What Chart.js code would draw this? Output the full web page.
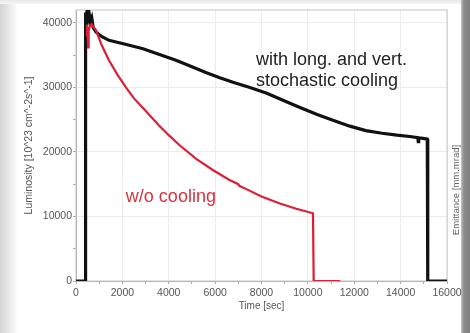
<!DOCTYPE html>
<html lang="en">
<head>
<meta charset="UTF-8">
<title>Luminosity vs time</title>
<script src="https://cdn.jsdelivr.net/npm/chart.js"></script>
<style>
    body {
        margin: 0;
        width: 470px;
        height: 333px;
        overflow: hidden;
        background: linear-gradient(to right, #d4d4d4 0px, #efefef 12px, #ffffff 18px);
        font-family: 'Liberation Sans', Arial, sans-serif;
    }
    .panel {
        position: absolute;
        left: 17px;
        top: 4px;
        width: 446px;
        height: 329px;
        background: #fff;
    }
    .topband {
        position: absolute;
        left: 0; top: 0;
        width: 470px; height: 4px;
        background: linear-gradient(to bottom, #e8e8e8, #f6f6f6);
    }
    .chart-box {
        position: absolute;
        left: 0; top: 0;
        width: 470px; height: 333px;
    }
    .edge {
        position: absolute;
        left: 461px; top: 0;
        width: 9px; height: 333px;
        background: linear-gradient(to right, #c4c4c4, #8a8a8a 3px, #7e7e7e);
    }
    .right-title {
        position: absolute;
        left: 455px; top: 190px;
        transform: translate(-50%, -50%) rotate(-90deg);
        font-size: 9.5px;
        color: #666;
        white-space: nowrap;
    }
</style>
</head>
<body>
    <div class="topband"></div>
    <div class="panel"></div>
    <div class="chart-box"><canvas id="lumi" width="470" height="333"></canvas></div>
    <div class="right-title">Emittance [mm.mrad]</div>
    <div class="edge"></div>

<script>
// black: with long. and vert. stochastic cooling
const coolT = [0, 390, 395, 430, 470, 520, 570, 620, 680, 740, 860, 1100, 1420, 2000, 2890, 3600, 4310, 5000, 5600, 6200, 6770, 7500, 8230, 9000, 9660, 10400, 11080, 11810, 12500, 13200, 13840, 14400, 14740, 14760, 14780, 14960, 15150, 15170, 16000];
const coolL = [0, 0, 41600, 40300, 41700, 40600, 41400, 40200, 40800, 39300, 38600, 37900, 37300, 36800, 36000, 35100, 34200, 33200, 32300, 31500, 30800, 30000, 29100, 27900, 26900, 25800, 24900, 24000, 23300, 22900, 22600, 22400, 22200, 21600, 22200, 22100, 22000, 0, 0];

// red: w/o cooling
const noCoolT = [440, 470, 500, 520, 545, 600, 680, 760, 860, 1100, 1420, 1800, 2155, 2500, 2890, 3580, 4000, 4480, 5200, 5900, 6600, 7000, 7040, 7370, 8000, 8790, 9500, 10220, 10250, 11400];
const noCoolL = [38000, 39700, 38900, 36200, 38800, 39500, 39800, 39300, 38900, 36600, 34200, 31900, 30000, 28300, 26800, 24100, 22600, 21000, 18900, 17200, 15700, 15000, 14750, 14200, 13100, 12000, 11200, 10500, 0, 0];

const xTicks = [0, 2000, 4000, 6000, 8000, 10000, 12000, 14000, 16000];
const yTicks = [0, 10000, 20000, 30000, 40000];

// text written inside the plot
const notes = [
    { text: 'with long. and vert.', t: 7760, l: 33500, color: '#222' },
    { text: 'stochastic cooling', t: 7760, l: 30200, color: '#222' },
    { text: 'w/o cooling', t: 2150, l: 12250, color: '#d8323f' }
];

const toPoints = (ts, ls) => ts.map((t, i) => ({ x: t, y: ls[i] }));

const notesPlugin = {
    id: 'notes',
    afterDatasetsDraw(chart) {
        const c = chart.ctx;
        const xs = chart.scales.x, ys = chart.scales.y;
        c.save();
        c.font = '18px "Liberation Sans", Arial, sans-serif';
        c.textBaseline = 'alphabetic';
        notes.forEach(n => {
            c.fillStyle = n.color;
            c.fillText(n.text, xs.getPixelForValue(n.t), ys.getPixelForValue(n.l));
        });
        c.restore();
    }
};

const framePlugin = {
    id: 'frame',
    beforeDatasetsDraw(chart) {
        const a = chart.chartArea, c = chart.ctx;
        c.save();
        c.strokeStyle = '#c4c4c4';
        c.lineWidth = 1;
        c.strokeRect(a.left, a.top, a.right - a.left, a.bottom - a.top);
        c.restore();
    }
};

Chart.defaults.font.family = '"Liberation Sans", Arial, sans-serif';

new Chart(document.getElementById('lumi'), {
    type: 'line',
    data: {
        datasets: [
            {
                label: 'w/o cooling',
                data: toPoints(noCoolT, noCoolL),
                borderColor: '#dc1f36',
                borderWidth: 2.2,
                pointRadius: 0,
                tension: 0
            },
            {
                label: 'with long. and vert. stochastic cooling',
                data: toPoints(coolT, coolL),
                borderColor: '#111',
                borderWidth: 3.2,
                pointRadius: 0,
                tension: 0
            }
        ]
    },
    options: {
        responsive: false,
        animation: false,
        layout: { padding: { left: 18, right: 23, top: 10, bottom: 0 } },
        plugins: {
            legend: { display: false },
            tooltip: { enabled: false }
        },
        scales: {
            x: {
                type: 'linear',
                min: 0,
                max: 16000,
                afterFit(s) { s.height = 52; },
                afterBuildTicks(s) {
                    s.ticks = [];
                    for (let v = 0; v <= 16000; v += 1000) s.ticks.push({ value: v });
                },
                ticks: {
                    color: '#555',
                    font: { size: 10.5 },
                    padding: 3,
                    maxRotation: 0,
                    autoSkip: false,
                    callback: v => xTicks.includes(v) ? String(v) : ''
                },
                grid: {
                    color: ctx => (ctx.tick && ctx.tick.value % 2000 === 0 && ctx.tick.value > 0) ? '#ececec' : 'transparent',
                    tickColor: '#aaa',
                    tickLength: 3
                },
                border: { color: '#aaa' },
                title: {
                    display: true,
                    text: 'Time [sec]',
                    color: '#555',
                    font: { size: 10 },
                    padding: { top: 0, bottom: 21 }
                }
            },
            y: {
                min: 0,
                max: 42000,
                afterFit(s) { s.width = 58; },
                afterBuildTicks(s) {
                    s.ticks = [];
                    for (let v = 0; v <= 40000; v += 5000) s.ticks.push({ value: v });
                },
                ticks: {
                    color: '#555',
                    font: { size: 10.5 },
                    padding: 1,
                    autoSkip: false,
                    callback: v => yTicks.includes(v) ? String(v) : ''
                },
                grid: {
                    color: ctx => (ctx.tick && ctx.tick.value % 10000 === 0 && ctx.tick.value > 0) ? '#ececec' : 'transparent',
                    tickColor: '#aaa',
                    tickLength: 3
                },
                border: { color: '#aaa' },
                title: {
                    display: true,
                    text: 'Luminosity [10^23 cm^-2s^-1]',
                    color: '#555',
                    font: { size: 10.5 },
                    padding: { top: 5, bottom: 0 }
                }
            }
        }
    },
    plugins: [framePlugin, notesPlugin]
});
</script>
</body>
</html>
